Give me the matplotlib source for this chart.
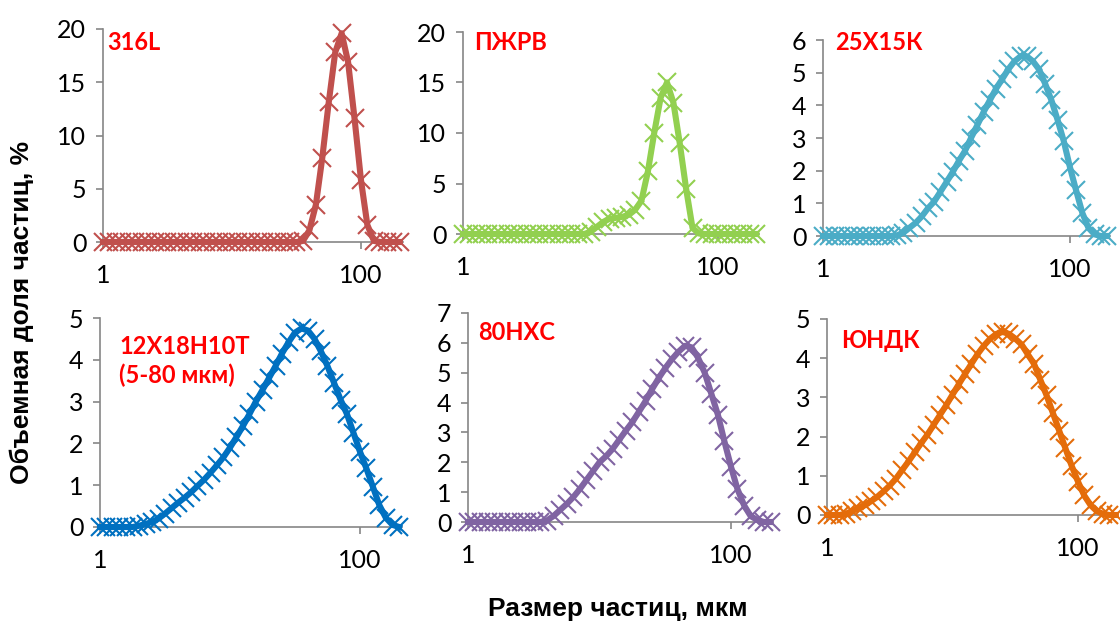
import math
import matplotlib
matplotlib.use('Agg')
import matplotlib.pyplot as plt
from matplotlib.ticker import FixedLocator, NullLocator, FixedFormatter

# particle size classes, um (shared by all samples)
sizes = [1.00, 1.12, 1.26, 1.41, 1.58, 1.78, 2.00, 2.24, 2.51, 2.82,
         3.16, 3.55, 3.98, 4.47, 5.01, 5.62, 6.31, 7.08, 7.94, 8.91,
         10.0, 11.2, 12.6, 14.1, 15.8, 17.8, 20.0, 22.4, 25.1, 28.2,
         31.6, 35.5, 39.8, 44.7, 50.1, 56.2, 63.1, 70.8, 79.4, 89.1,
         100, 112, 126, 141, 158, 178, 200]

# volume fraction, %
y_316l = [0, 0, 0, 0, 0, 0, 0, 0, 0, 0,
          0, 0, 0, 0, 0, 0, 0, 0, 0, 0,
          0, 0, 0, 0, 0, 0, 0, 0, 0, 0,
          0, 0.1, 1.1, 3.5, 7.9, 13.1, 17.8, 19.6, 16.9, 11.6,
          5.8, 1.6, 0.1, 0, 0, 0, 0]
y_pzhrv = [0, 0, 0, 0, 0, 0, 0, 0, 0, 0,
           0, 0, 0, 0, 0, 0, 0, 0, 0, 0,
           0.2, 0.7, 1.2, 1.5, 1.6, 1.7, 1.9, 2.4, 3.3, 6.2,
           10.0, 13.5, 15.0, 13.0, 9.0, 4.5, 0.6, 0.05, 0, 0,
           0, 0, 0, 0, 0, 0, 0]
y_25x15k = [0, 0, 0, 0, 0, 0, 0, 0, 0, 0,
            0, 0, 0.02, 0.1, 0.25, 0.4, 0.6, 0.85, 1.05, 1.35,
            1.65, 1.95, 2.3, 2.6, 3.0, 3.4, 3.8, 4.15, 4.5, 4.8,
            5.1, 5.35, 5.5, 5.5, 5.35, 5.1, 4.65, 4.15, 3.55, 2.9,
            2.1, 1.4, 0.7, 0.25, 0.05, 0, 0]
y_12x18 = [0, 0, 0, 0, 0, 0, 0.03, 0.07, 0.12, 0.2,
           0.32, 0.45, 0.58, 0.7, 0.83, 0.98, 1.13, 1.3, 1.48, 1.67,
           1.9, 2.15, 2.42, 2.7, 3.0, 3.28, 3.57, 3.85, 4.15, 4.42,
           4.65, 4.75, 4.7, 4.5, 4.2, 3.85, 3.45, 3.05, 2.7, 2.25,
           1.8, 1.4, 0.95, 0.52, 0.22, 0.05, 0]
y_80nhs = [0, 0, 0, 0, 0, 0, 0, 0, 0, 0,
           0, 0, 0.05, 0.2, 0.4, 0.6, 0.83, 1.1, 1.4, 1.7,
           2.0, 2.2, 2.45, 2.75, 3.05, 3.35, 3.7, 4.05, 4.45, 4.82,
           5.15, 5.45, 5.7, 5.9, 5.85, 5.5, 5.0, 4.3, 3.6, 2.7,
           1.85, 1.1, 0.55, 0.2, 0.07, 0, 0]
y_yundk = [0, 0, 0, 0.03, 0.1, 0.17, 0.25, 0.35, 0.46, 0.6,
           0.75, 0.93, 1.15, 1.37, 1.6, 1.83, 2.05, 2.3, 2.55, 2.8,
           3.07, 3.33, 3.6, 3.85, 4.1, 4.32, 4.5, 4.62, 4.67, 4.62,
           4.5, 4.35, 4.1, 3.85, 3.45, 3.05, 2.6, 2.15, 1.7, 1.25,
           0.85, 0.5, 0.25, 0.1, 0.03, 0, 0]

names = ['316L', 'ПЖРВ', '25Х15К', '12Х18Н10Т\n(5-80 мкм)', '80НХС', 'ЮНДК']
series = [y_316l, y_pzhrv, y_25x15k, y_12x18, y_80nhs, y_yundk]
colors = ['#C0504D', '#92D050', '#4BACC6', '#0070C0', '#8064A2', '#E46C0A']
y_max = [20, 20, 6, 5, 7, 5]
y_step = [5, 5, 1, 1, 1, 1]

W, H = 1120, 623
X_MAX = 210.0
# panel layout in pixels: left edge, top (y max), bottom (y = 0), px per decade
layout = [(103, 29, 242, 129), (463, 32, 234, 127.5), (823, 40, 236, 123.5),
          (100, 318, 527, 130), (468, 313, 522, 131.5), (827, 319, 515, 125.5)]
# label anchor (left, vertical centre) in pixels
label_pos = [(107, 43), (474, 43), (835, 43), (119, 361), (478, 333), (841, 340)]

fig = plt.figure(figsize=(W / 100, H / 100), dpi=100)
axis_grey = '#868686'

for i in range(6):
    left, top, bottom, dec = layout[i]
    width = dec * math.log10(X_MAX)
    ax = fig.add_axes([left / W, 1 - bottom / H, width / W, (bottom - top) / H])
    ax.plot(sizes, series[i], color=colors[i], lw=4.4, marker='x',
            markersize=13.5, markeredgewidth=1.5, clip_on=False, zorder=3)
    ax.set_xscale('log')
    ax.set_xlim(1, X_MAX)
    ax.set_ylim(0, y_max[i])
    ax.xaxis.set_major_locator(FixedLocator([1, 100]))
    ax.xaxis.set_major_formatter(FixedFormatter(['1', '100']))
    ax.xaxis.set_minor_locator(NullLocator())
    ax.set_yticks(range(0, y_max[i] + 1, y_step[i]))
    for s in ['top', 'right']:
        ax.spines[s].set_visible(False)
    for s in ['left', 'bottom']:
        ax.spines[s].set_color(axis_grey)
        ax.spines[s].set_linewidth(1.2)
    ax.tick_params(axis='both', direction='out', color=axis_grey, width=1.2,
                   length=5, labelsize=18, labelcolor='black')
    ax.tick_params(axis='x', pad=11)
    ax.tick_params(axis='y', pad=7)
    for lab in ax.get_xticklabels() + ax.get_yticklabels():
        lab.set_family('Lato')
    ax.patch.set_alpha(0)

    lx, ly = label_pos[i]
    fig.text(lx / W, 1 - ly / H, names[i], color='#FF0000', fontsize=17,
             fontweight='bold', family='Lato', ha='left', va='center',
             linespacing=1.3)

fig.text(22 / W, 1 - 312 / H, 'Объемная доля частиц, %', rotation=90,
         fontsize=19, fontweight='bold', family='Liberation Sans',
         ha='center', va='center')
fig.text(618 / W, 1 - 609 / H, 'Размер частиц, мкм', fontsize=19,
         fontweight='bold', family='Liberation Sans', ha='center', va='center')

fig.savefig('out.png', dpi=100)
